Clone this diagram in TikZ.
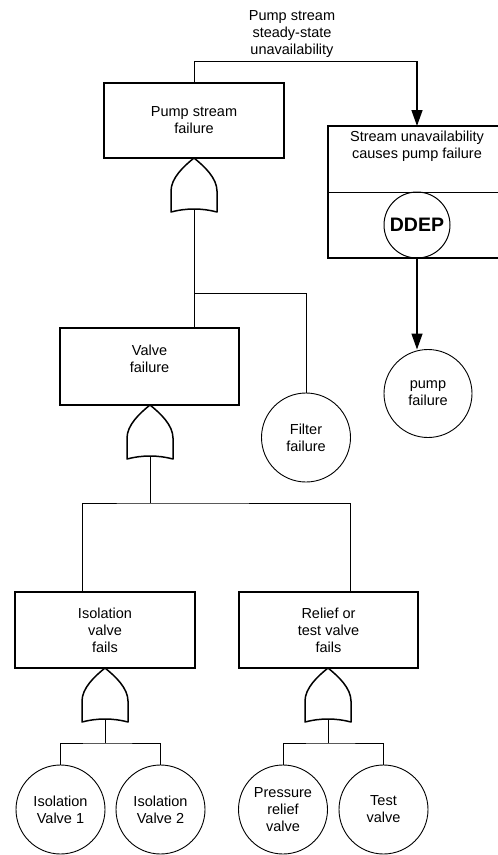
\documentclass[tikz,border=0pt]{standalone}
\usepackage{fontspec}
\setmainfont{Liberation Sans}
\usetikzlibrary{arrows.meta}
\begin{document}
\begin{tikzpicture}[x=1pt,y=-1pt,
  every node/.style={font=\fontsize{14.5}{17}\selectfont, align=center},
  eventbox/.style={draw, line width=1.8pt, inner sep=0pt},
  basic/.style={draw, circle, line width=0.9pt, inner sep=0pt, minimum size=89pt},
  wire/.style={line width=1pt},
  gateline/.style={line width=1.5pt, line join=round},
  flow/.style={line width=1.4pt, -{Triangle[length=16pt,width=11pt]}},
  orgate/.pic={
    \draw[gateline] (-23,54) -- (-23,33) .. controls (-23,20) and (-10,8) .. (0,0)
      .. controls (10,8) and (23,20) .. (23,33) -- (23,54)
      .. controls (8,50) and (-8,50) .. cycle;
    \coordinate (-top) at (0,0);
    \coordinate (-bot) at (0,51);
  }]
\useasboundingbox (0,0) rectangle (498,855);

% dependency label and link
\node (deplabel) at (292,34) {Pump stream\\steady-state\\unavailability};

% top event
\node[eventbox, minimum width=180pt, minimum height=75pt] (psf) at (194,120.5) {Pump stream\\failure};
\pic (g1) at (194,158) {orgate};

% dynamic dependency block (open on the right)
\coordinate (sbTL) at (328,126);
\coordinate (sbML) at (328,192);
\coordinate (sbBL) at (328,258);
\draw[line width=1.2pt] (498,126) -- (sbTL) -- (sbBL) -- (498,258);
\draw[line width=1pt] (sbML) -- (498,192);
\node (sbtext) at (417,146) {Stream unavailability\\causes pump failure};
\node[draw, circle, line width=1pt, inner sep=0pt, minimum size=66pt,
      font=\fontsize{19.5}{22}\selectfont\bfseries] (ddep) at (417,225) {DDEP};
\coordinate (sbtop) at (417,126);
\coordinate (sbbot) at (417,258);
\node[basic, minimum size=88pt] (pf) at (428,393.5) {pump\\failure};

\coordinate (dep) at (417,61);
\draw[wire] (psf.north) |- (dep);
\draw[flow] (dep) -- (sbtop);
\draw[flow] (sbbot) -- (417,349.5);

% second level
\node[eventbox, minimum width=179pt, minimum height=77pt, text depth=16pt] (vf) at (149.5,366.5) {Valve\\failure};
\node[basic] (fil) at (306,437.5) {Filter\\failure};
\pic (g2) at (150,405) {orgate};

\coordinate (j1) at (194,293);
\draw[wire] (g1-bot) -- (g1-bot |- vf.north);
\draw[wire] (j1) -| (fil.north);

% third level
\node[eventbox, minimum width=180pt, minimum height=76pt] (iso) at (105,630) {Isolation\\valve\\fails};
\node[eventbox, minimum width=179pt, minimum height=76pt] (rel) at (328.5,630) {Relief or\\test valve\\fails};
\pic (g3) at (105,668) {orgate};
\pic (g4) at (328,668) {orgate};

\coordinate (j2) at (150,503);
\coordinate (isoin) at (82,592);
\coordinate (relin) at (350,592);
\draw[wire] (g2-bot) -- (j2);
\draw[wire] (isoin) |- (j2) -| (relin);

% basic events
\node[basic] (iv1) at (60.5,809.5) {Isolation\\Valve 1};
\node[basic] (iv2) at (160.5,809.5) {Isolation\\Valve 2};
\node[basic] (prv) at (283,809.5) {Pressure\\relief\\valve};
\node[basic] (tv) at (383.5,809.5) {Test\\valve};

\coordinate (j3) at (105,743);
\coordinate (j4) at (328,743);
\draw[wire] (g3-bot) -- (j3);
\draw[wire] (iv1.north) |- (j3) -| (iv2.north);
\draw[wire] (g4-bot) -- (j4);
\draw[wire] (prv.north) |- (j4) -| (tv.north);
\end{tikzpicture}
\end{document}
